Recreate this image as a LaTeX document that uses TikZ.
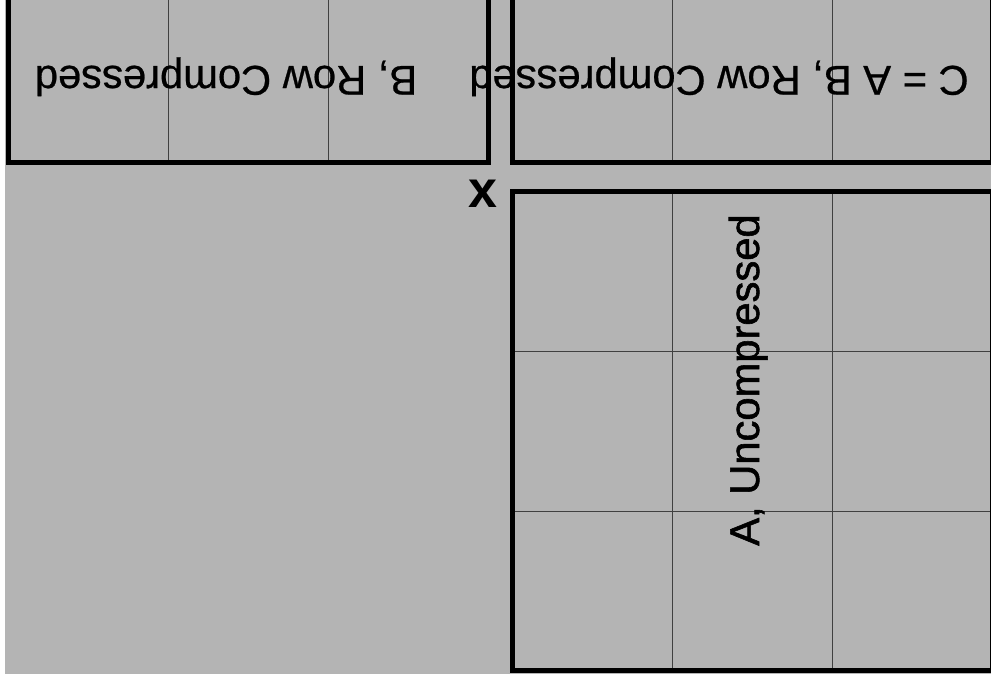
\documentclass[tikz,border=0pt]{standalone}
\usepackage{fontspec}
\setmainfont{Liberation Sans}
\newfontfamily\labelfont[FakeBold=0.6]{Liberation Sans}
\newfontfamily\heavylabelfont[FakeBold=1.4]{Liberation Sans}
\definecolor{panel}{RGB}{180,180,180}
\definecolor{gridline}{RGB}{64,64,64}
\begin{document}
\begin{tikzpicture}[x=1pt,y=-1pt,
  frame/.style={draw=black,line width=4.5pt},
  cellline/.style={draw=gridline,line width=1pt},
  matlabel/.style={inner sep=0pt,font=\labelfont\fontsize{41.7}{50}\selectfont},
  heavylabel/.style={inner sep=0pt,font=\heavylabelfont\fontsize{41.7}{50}\selectfont},
  timessign/.style={inner sep=0pt,font=\fontsize{52}{60}\selectfont\bfseries}]
\useasboundingbox (0,0) rectangle (991,689);
\clip (0,0) rectangle (991,689);
\fill[white] (0,0) rectangle (991,689);
\fill[panel] (5,0) rectangle (991,674);

% matrix B (row compressed)
\draw[cellline] (168,-20) -- (168,163) (328,-20) -- (328,163);
\draw[frame] (8.5,-20) rectangle (488.5,162.5);

% matrix C = A B (row compressed)
\draw[cellline] (672,-20) -- (672,163) (832,-20) -- (832,163);
\draw[frame] (512.5,-20) rectangle (992.5,162.5);

% matrix A (uncompressed, 3x3)
\draw[cellline] (672,191.5) -- (672,670.5) (832,191.5) -- (832,670.5)
                (512.5,351) -- (992,351) (512.5,511) -- (992,511);
\draw[frame] (512.5,191.5) rectangle (992.5,670.5);

% labels
\node[matlabel,rotate=180,anchor=base] (labB) at (226,66) {B, Row Compressed};
\node[matlabel,rotate=180,anchor=base] (labC) at (719,66) {C = A B, Row Compressed};
\node[heavylabel,rotate=90,anchor=base] (labA) at (759,380) {A, Uncompressed};
\node[timessign] (times) at (483,193.5) {x};
\end{tikzpicture}
\end{document}
